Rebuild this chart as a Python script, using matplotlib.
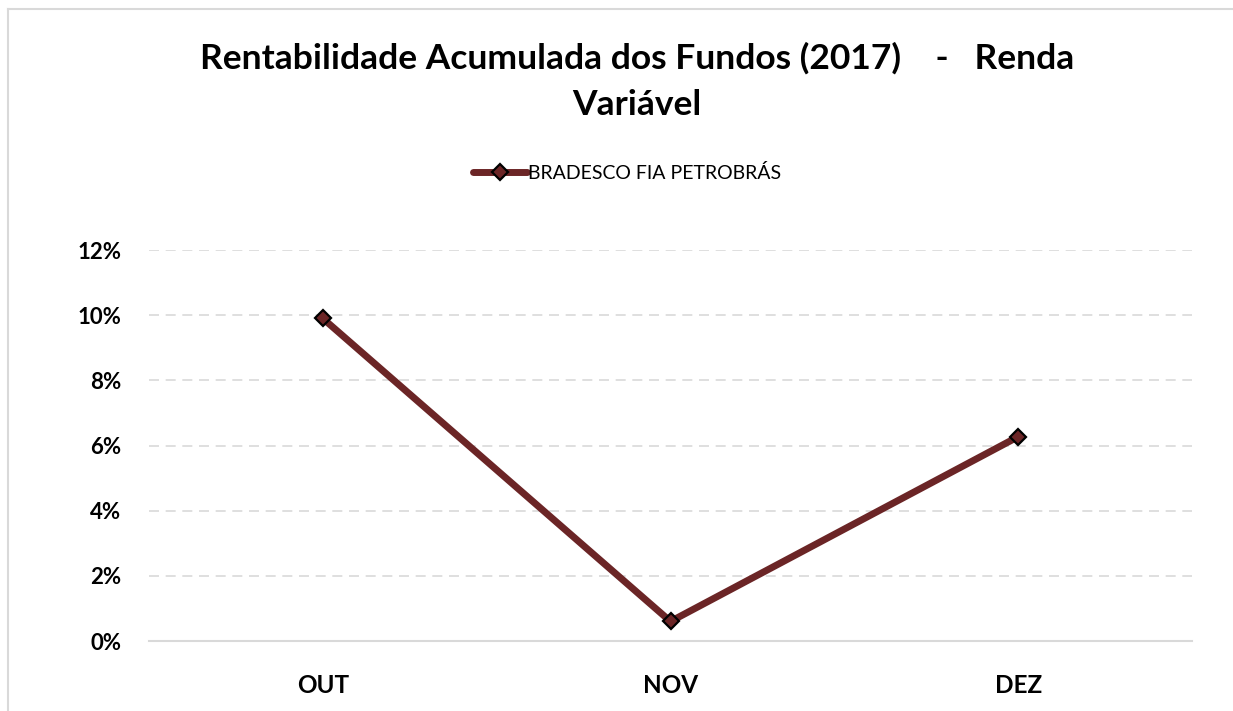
import matplotlib
matplotlib.use("Agg")
import matplotlib.pyplot as plt
from matplotlib.lines import Line2D

categories = ["OUT", "NOV", "DEZ"]
series_name = "BRADESCO FIA PETROBRÁS"
values = [9.9, 0.6, 6.27]
yticks = [0, 2, 4, 6, 8, 10, 12]

W, H = 1233, 711
plt.rcParams['font.family'] = ['Lato', 'DejaVu Sans']
fig = plt.figure(figsize=(W / 100, H / 100), dpi=100)

ax = fig.add_axes([149 / W, 1 - 641 / H, (1192 - 149) / W, (641 - 250) / H])
x = list(range(len(categories)))
color = "#6B2526"
ax.plot(x, values, color=color, lw=5, marker="D", ms=8, mfc=color, mec="black",
        mew=1.6, label=series_name, solid_capstyle="round", zorder=3)
ax.set_xlim(-0.5, len(categories) - 0.5)
ax.set_ylim(0, 12)
ax.set_yticks(yticks)
ax.set_yticklabels([f"{t}%" for t in yticks], fontsize=16, fontweight="bold")
ax.set_xticks(x)
ax.set_xticklabels(categories, fontsize=17.5, fontweight="bold")
for s in ["top", "right", "left"]:
    ax.spines[s].set_visible(False)
ax.spines["bottom"].set_color("#D9D9D9")
ax.spines["bottom"].set_linewidth(1.5)
ax.tick_params(axis="both", length=0)
ax.tick_params(axis="y", pad=20)
ax.tick_params(axis="x", pad=24)
for t in yticks[1:]:
    ax.axhline(t, color="#D9D9D9", lw=1.2, ls=(0, (6, 4)), zorder=1)

fig.text(637 / W, 1 - 58 / H, "Rentabilidade Acumulada dos Fundos (2017)    -   Renda",
         ha="center", va="center", fontsize=25.5, fontweight="bold")
fig.text(637 / W, 1 - 105 / H, "Variável", ha="center", va="center",
         fontsize=25.5, fontweight="bold")

leg = fig.legend(loc="center", bbox_to_anchor=(627 / W, 1 - 173 / H), frameon=False,
                 fontsize=14, handlelength=2.8, handletextpad=0.05)

fig.add_artist(Line2D([8 / W, 8 / W], [0, 1 - 9 / H], color="#D9D9D9", lw=1.5,
                      transform=fig.transFigure))
fig.add_artist(Line2D([8 / W, 1], [1 - 9 / H, 1 - 9 / H], color="#D9D9D9", lw=1.5,
                      transform=fig.transFigure))

fig.savefig("out.png", dpi=100)
